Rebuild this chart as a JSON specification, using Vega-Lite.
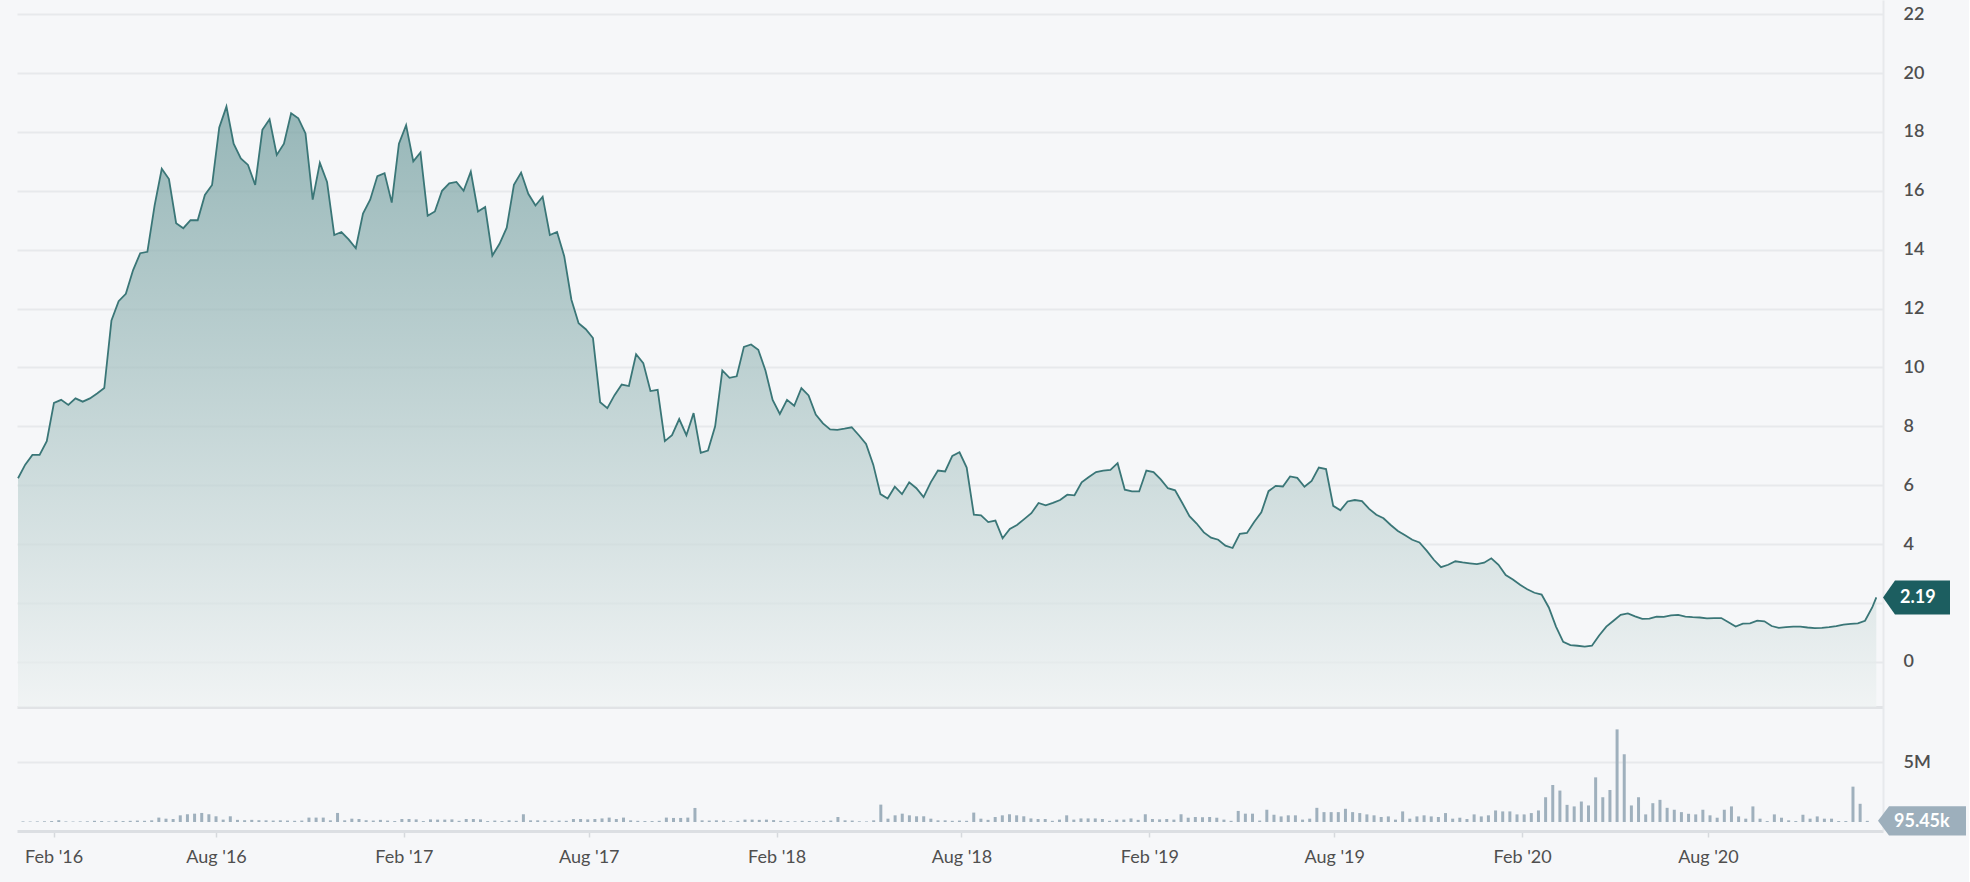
{
  "$schema": "https://vega.github.io/schema/vega-lite/v6.json",
  "background": "#f6f7f9",
  "padding": {"left": 14, "top": 0, "right": 2, "bottom": 18},
  "spacing": 0,
  "config": {
    "view": {"stroke": null},
    "axis": {"labelFont": "Lato", "labelFontSize": 18, "labelColor": "#4f4f4f", "title": null}
  },
  "datasets": {
    "weekly": [
      {"date": "2016-01-25", "price": 6.24, "volume": 50000},
      {"date": "2016-02-01", "price": 6.7, "volume": 40000},
      {"date": "2016-02-08", "price": 7.03, "volume": 50000},
      {"date": "2016-02-15", "price": 7.03, "volume": 60000},
      {"date": "2016-02-22", "price": 7.5, "volume": 80000},
      {"date": "2016-02-29", "price": 8.8, "volume": 150000},
      {"date": "2016-03-07", "price": 8.9, "volume": 50000},
      {"date": "2016-03-14", "price": 8.73, "volume": 40000},
      {"date": "2016-03-21", "price": 8.95, "volume": 50000},
      {"date": "2016-03-28", "price": 8.84, "volume": 60000},
      {"date": "2016-04-04", "price": 8.95, "volume": 100000},
      {"date": "2016-04-11", "price": 9.12, "volume": 80000},
      {"date": "2016-04-18", "price": 9.3, "volume": 50000},
      {"date": "2016-04-25", "price": 11.6, "volume": 100000},
      {"date": "2016-05-02", "price": 12.25, "volume": 80000},
      {"date": "2016-05-09", "price": 12.5, "volume": 100000},
      {"date": "2016-05-16", "price": 13.3, "volume": 120000},
      {"date": "2016-05-23", "price": 13.88, "volume": 100000},
      {"date": "2016-05-30", "price": 13.93, "volume": 140000},
      {"date": "2016-06-06", "price": 15.5, "volume": 370000},
      {"date": "2016-06-13", "price": 16.75, "volume": 280000},
      {"date": "2016-06-20", "price": 16.4, "volume": 250000},
      {"date": "2016-06-27", "price": 14.9, "volume": 560000},
      {"date": "2016-07-04", "price": 14.73, "volume": 650000},
      {"date": "2016-07-11", "price": 15.0, "volume": 700000},
      {"date": "2016-07-18", "price": 15.0, "volume": 760000},
      {"date": "2016-07-25", "price": 15.86, "volume": 650000},
      {"date": "2016-08-01", "price": 16.2, "volume": 480000},
      {"date": "2016-08-08", "price": 18.15, "volume": 200000},
      {"date": "2016-08-15", "price": 18.86, "volume": 480000},
      {"date": "2016-08-22", "price": 17.6, "volume": 180000},
      {"date": "2016-08-29", "price": 17.1, "volume": 150000},
      {"date": "2016-09-05", "price": 16.88, "volume": 180000},
      {"date": "2016-09-12", "price": 16.2, "volume": 150000},
      {"date": "2016-09-19", "price": 18.07, "volume": 140000},
      {"date": "2016-09-26", "price": 18.43, "volume": 120000},
      {"date": "2016-10-03", "price": 17.22, "volume": 140000},
      {"date": "2016-10-10", "price": 17.6, "volume": 120000},
      {"date": "2016-10-17", "price": 18.63, "volume": 100000},
      {"date": "2016-10-24", "price": 18.46, "volume": 120000},
      {"date": "2016-10-31", "price": 17.95, "volume": 370000},
      {"date": "2016-11-07", "price": 15.7, "volume": 370000},
      {"date": "2016-11-14", "price": 16.95, "volume": 370000},
      {"date": "2016-11-21", "price": 16.3, "volume": 140000},
      {"date": "2016-11-28", "price": 14.5, "volume": 760000},
      {"date": "2016-12-05", "price": 14.6, "volume": 140000},
      {"date": "2016-12-12", "price": 14.35, "volume": 280000},
      {"date": "2016-12-19", "price": 14.05, "volume": 250000},
      {"date": "2016-12-26", "price": 15.23, "volume": 150000},
      {"date": "2017-01-02", "price": 15.7, "volume": 120000},
      {"date": "2017-01-09", "price": 16.5, "volume": 180000},
      {"date": "2017-01-16", "price": 16.6, "volume": 120000},
      {"date": "2017-01-23", "price": 15.6, "volume": 80000},
      {"date": "2017-01-30", "price": 17.6, "volume": 250000},
      {"date": "2017-02-06", "price": 18.23, "volume": 250000},
      {"date": "2017-02-13", "price": 17.0, "volume": 220000},
      {"date": "2017-02-20", "price": 17.3, "volume": 80000},
      {"date": "2017-02-27", "price": 15.15, "volume": 220000},
      {"date": "2017-03-06", "price": 15.3, "volume": 200000},
      {"date": "2017-03-13", "price": 16.0, "volume": 200000},
      {"date": "2017-03-20", "price": 16.25, "volume": 220000},
      {"date": "2017-03-27", "price": 16.3, "volume": 100000},
      {"date": "2017-04-03", "price": 16.0, "volume": 250000},
      {"date": "2017-04-10", "price": 16.65, "volume": 250000},
      {"date": "2017-04-17", "price": 15.3, "volume": 220000},
      {"date": "2017-04-24", "price": 15.45, "volume": 80000},
      {"date": "2017-05-01", "price": 13.8, "volume": 120000},
      {"date": "2017-05-08", "price": 14.2, "volume": 80000},
      {"date": "2017-05-15", "price": 14.75, "volume": 140000},
      {"date": "2017-05-22", "price": 16.2, "volume": 100000},
      {"date": "2017-05-29", "price": 16.62, "volume": 650000},
      {"date": "2017-06-05", "price": 15.9, "volume": 140000},
      {"date": "2017-06-12", "price": 15.5, "volume": 140000},
      {"date": "2017-06-19", "price": 15.8, "volume": 120000},
      {"date": "2017-06-26", "price": 14.5, "volume": 100000},
      {"date": "2017-07-03", "price": 14.6, "volume": 120000},
      {"date": "2017-07-10", "price": 13.78, "volume": 100000},
      {"date": "2017-07-17", "price": 12.3, "volume": 250000},
      {"date": "2017-07-24", "price": 11.5, "volume": 250000},
      {"date": "2017-07-31", "price": 11.3, "volume": 220000},
      {"date": "2017-08-07", "price": 11.0, "volume": 250000},
      {"date": "2017-08-14", "price": 8.82, "volume": 300000},
      {"date": "2017-08-21", "price": 8.62, "volume": 370000},
      {"date": "2017-08-28", "price": 9.06, "volume": 250000},
      {"date": "2017-09-04", "price": 9.42, "volume": 370000},
      {"date": "2017-09-11", "price": 9.37, "volume": 140000},
      {"date": "2017-09-18", "price": 10.45, "volume": 100000},
      {"date": "2017-09-25", "price": 10.15, "volume": 80000},
      {"date": "2017-10-02", "price": 9.2, "volume": 80000},
      {"date": "2017-10-09", "price": 9.24, "volume": 100000},
      {"date": "2017-10-16", "price": 7.5, "volume": 370000},
      {"date": "2017-10-23", "price": 7.7, "volume": 340000},
      {"date": "2017-10-30", "price": 8.25, "volume": 340000},
      {"date": "2017-11-06", "price": 7.7, "volume": 370000},
      {"date": "2017-11-13", "price": 8.45, "volume": 1180000},
      {"date": "2017-11-20", "price": 7.1, "volume": 140000},
      {"date": "2017-11-27", "price": 7.18, "volume": 120000},
      {"date": "2017-12-04", "price": 8.0, "volume": 140000},
      {"date": "2017-12-11", "price": 9.9, "volume": 120000},
      {"date": "2017-12-18", "price": 9.65, "volume": 60000},
      {"date": "2017-12-25", "price": 9.7, "volume": 100000},
      {"date": "2018-01-01", "price": 10.7, "volume": 200000},
      {"date": "2018-01-08", "price": 10.78, "volume": 200000},
      {"date": "2018-01-15", "price": 10.6, "volume": 180000},
      {"date": "2018-01-22", "price": 9.9, "volume": 200000},
      {"date": "2018-01-29", "price": 8.9, "volume": 160000},
      {"date": "2018-02-05", "price": 8.42, "volume": 100000},
      {"date": "2018-02-12", "price": 8.9, "volume": 80000},
      {"date": "2018-02-19", "price": 8.7, "volume": 60000},
      {"date": "2018-02-26", "price": 9.3, "volume": 100000},
      {"date": "2018-03-05", "price": 9.05, "volume": 80000},
      {"date": "2018-03-12", "price": 8.4, "volume": 60000},
      {"date": "2018-03-19", "price": 8.1, "volume": 100000},
      {"date": "2018-03-26", "price": 7.9, "volume": 120000},
      {"date": "2018-04-02", "price": 7.88, "volume": 420000},
      {"date": "2018-04-09", "price": 7.92, "volume": 140000},
      {"date": "2018-04-16", "price": 7.97, "volume": 120000},
      {"date": "2018-04-23", "price": 7.7, "volume": 60000},
      {"date": "2018-04-30", "price": 7.4, "volume": 50000},
      {"date": "2018-05-07", "price": 6.7, "volume": 140000},
      {"date": "2018-05-14", "price": 5.7, "volume": 1460000},
      {"date": "2018-05-21", "price": 5.55, "volume": 280000},
      {"date": "2018-05-28", "price": 5.95, "volume": 560000},
      {"date": "2018-06-04", "price": 5.7, "volume": 700000},
      {"date": "2018-06-11", "price": 6.1, "volume": 560000},
      {"date": "2018-06-18", "price": 5.9, "volume": 480000},
      {"date": "2018-06-25", "price": 5.6, "volume": 480000},
      {"date": "2018-07-02", "price": 6.1, "volume": 280000},
      {"date": "2018-07-09", "price": 6.5, "volume": 140000},
      {"date": "2018-07-16", "price": 6.47, "volume": 140000},
      {"date": "2018-07-23", "price": 7.0, "volume": 100000},
      {"date": "2018-07-30", "price": 7.12, "volume": 120000},
      {"date": "2018-08-06", "price": 6.6, "volume": 100000},
      {"date": "2018-08-13", "price": 5.0, "volume": 790000},
      {"date": "2018-08-20", "price": 4.98, "volume": 280000},
      {"date": "2018-08-27", "price": 4.75, "volume": 180000},
      {"date": "2018-09-03", "price": 4.8, "volume": 420000},
      {"date": "2018-09-10", "price": 4.2, "volume": 560000},
      {"date": "2018-09-17", "price": 4.52, "volume": 650000},
      {"date": "2018-09-24", "price": 4.65, "volume": 560000},
      {"date": "2018-10-01", "price": 4.85, "volume": 480000},
      {"date": "2018-10-08", "price": 5.05, "volume": 300000},
      {"date": "2018-10-15", "price": 5.4, "volume": 250000},
      {"date": "2018-10-22", "price": 5.32, "volume": 250000},
      {"date": "2018-10-29", "price": 5.4, "volume": 100000},
      {"date": "2018-11-05", "price": 5.5, "volume": 200000},
      {"date": "2018-11-12", "price": 5.68, "volume": 560000},
      {"date": "2018-11-19", "price": 5.66, "volume": 200000},
      {"date": "2018-11-26", "price": 6.1, "volume": 300000},
      {"date": "2018-12-03", "price": 6.28, "volume": 300000},
      {"date": "2018-12-10", "price": 6.45, "volume": 300000},
      {"date": "2018-12-17", "price": 6.5, "volume": 250000},
      {"date": "2018-12-24", "price": 6.52, "volume": 100000},
      {"date": "2018-12-31", "price": 6.75, "volume": 200000},
      {"date": "2019-01-07", "price": 5.85, "volume": 200000},
      {"date": "2019-01-14", "price": 5.79, "volume": 300000},
      {"date": "2019-01-21", "price": 5.79, "volume": 180000},
      {"date": "2019-01-28", "price": 6.5, "volume": 650000},
      {"date": "2019-02-04", "price": 6.45, "volume": 250000},
      {"date": "2019-02-11", "price": 6.2, "volume": 220000},
      {"date": "2019-02-18", "price": 5.9, "volume": 250000},
      {"date": "2019-02-25", "price": 5.83, "volume": 200000},
      {"date": "2019-03-04", "price": 5.4, "volume": 650000},
      {"date": "2019-03-11", "price": 4.95, "volume": 360000},
      {"date": "2019-03-18", "price": 4.7, "volume": 420000},
      {"date": "2019-03-25", "price": 4.4, "volume": 400000},
      {"date": "2019-04-01", "price": 4.22, "volume": 420000},
      {"date": "2019-04-08", "price": 4.15, "volume": 360000},
      {"date": "2019-04-15", "price": 3.95, "volume": 200000},
      {"date": "2019-04-22", "price": 3.87, "volume": 100000},
      {"date": "2019-04-29", "price": 4.35, "volume": 930000},
      {"date": "2019-05-06", "price": 4.38, "volume": 700000},
      {"date": "2019-05-13", "price": 4.75, "volume": 700000},
      {"date": "2019-05-20", "price": 5.08, "volume": 120000},
      {"date": "2019-05-27", "price": 5.8, "volume": 1030000},
      {"date": "2019-06-03", "price": 5.98, "volume": 610000},
      {"date": "2019-06-10", "price": 5.96, "volume": 470000},
      {"date": "2019-06-17", "price": 6.3, "volume": 560000},
      {"date": "2019-06-24", "price": 6.25, "volume": 560000},
      {"date": "2019-07-01", "price": 5.95, "volume": 200000},
      {"date": "2019-07-08", "price": 6.15, "volume": 280000},
      {"date": "2019-07-15", "price": 6.6, "volume": 1190000},
      {"date": "2019-07-22", "price": 6.55, "volume": 830000},
      {"date": "2019-07-29", "price": 5.3, "volume": 830000},
      {"date": "2019-08-05", "price": 5.15, "volume": 830000},
      {"date": "2019-08-12", "price": 5.45, "volume": 1110000},
      {"date": "2019-08-19", "price": 5.5, "volume": 830000},
      {"date": "2019-08-26", "price": 5.46, "volume": 750000},
      {"date": "2019-09-02", "price": 5.2, "volume": 640000},
      {"date": "2019-09-09", "price": 5.0, "volume": 560000},
      {"date": "2019-09-16", "price": 4.88, "volume": 420000},
      {"date": "2019-09-23", "price": 4.65, "volume": 470000},
      {"date": "2019-09-30", "price": 4.45, "volume": 200000},
      {"date": "2019-10-07", "price": 4.3, "volume": 890000},
      {"date": "2019-10-14", "price": 4.15, "volume": 280000},
      {"date": "2019-10-21", "price": 4.06, "volume": 470000},
      {"date": "2019-10-28", "price": 3.78, "volume": 560000},
      {"date": "2019-11-04", "price": 3.47, "volume": 470000},
      {"date": "2019-11-11", "price": 3.22, "volume": 420000},
      {"date": "2019-11-18", "price": 3.3, "volume": 750000},
      {"date": "2019-11-25", "price": 3.42, "volume": 280000},
      {"date": "2019-12-02", "price": 3.38, "volume": 360000},
      {"date": "2019-12-09", "price": 3.35, "volume": 250000},
      {"date": "2019-12-16", "price": 3.32, "volume": 640000},
      {"date": "2019-12-23", "price": 3.37, "volume": 470000},
      {"date": "2019-12-30", "price": 3.52, "volume": 560000},
      {"date": "2020-01-06", "price": 3.3, "volume": 970000},
      {"date": "2020-01-13", "price": 2.95, "volume": 890000},
      {"date": "2020-01-20", "price": 2.8, "volume": 890000},
      {"date": "2020-01-27", "price": 2.62, "volume": 640000},
      {"date": "2020-02-03", "price": 2.47, "volume": 640000},
      {"date": "2020-02-10", "price": 2.35, "volume": 750000},
      {"date": "2020-02-17", "price": 2.29, "volume": 970000},
      {"date": "2020-02-24", "price": 1.85, "volume": 2080000},
      {"date": "2020-03-02", "price": 1.2, "volume": 3110000},
      {"date": "2020-03-09", "price": 0.68, "volume": 2640000},
      {"date": "2020-03-16", "price": 0.57, "volume": 1440000},
      {"date": "2020-03-23", "price": 0.55, "volume": 1310000},
      {"date": "2020-03-30", "price": 0.52, "volume": 1720000},
      {"date": "2020-04-06", "price": 0.55, "volume": 1390000},
      {"date": "2020-04-13", "price": 0.9, "volume": 3750000},
      {"date": "2020-04-20", "price": 1.2, "volume": 2080000},
      {"date": "2020-04-27", "price": 1.4, "volume": 2690000},
      {"date": "2020-05-04", "price": 1.6, "volume": 7780000},
      {"date": "2020-05-11", "price": 1.65, "volume": 5690000},
      {"date": "2020-05-18", "price": 1.55, "volume": 1390000},
      {"date": "2020-05-25", "price": 1.46, "volume": 2080000},
      {"date": "2020-06-01", "price": 1.47, "volume": 640000},
      {"date": "2020-06-08", "price": 1.54, "volume": 1580000},
      {"date": "2020-06-15", "price": 1.53, "volume": 1860000},
      {"date": "2020-06-22", "price": 1.58, "volume": 1190000},
      {"date": "2020-06-29", "price": 1.6, "volume": 1030000},
      {"date": "2020-07-06", "price": 1.54, "volume": 830000},
      {"date": "2020-07-13", "price": 1.52, "volume": 690000},
      {"date": "2020-07-20", "price": 1.51, "volume": 640000},
      {"date": "2020-07-27", "price": 1.48, "volume": 1030000},
      {"date": "2020-08-03", "price": 1.49, "volume": 560000},
      {"date": "2020-08-10", "price": 1.49, "volume": 360000},
      {"date": "2020-08-17", "price": 1.35, "volume": 1030000},
      {"date": "2020-08-24", "price": 1.2, "volume": 1310000},
      {"date": "2020-08-31", "price": 1.3, "volume": 470000},
      {"date": "2020-09-07", "price": 1.31, "volume": 280000},
      {"date": "2020-09-14", "price": 1.4, "volume": 1310000},
      {"date": "2020-09-21", "price": 1.38, "volume": 280000},
      {"date": "2020-09-28", "price": 1.22, "volume": 80000},
      {"date": "2020-10-05", "price": 1.16, "volume": 640000},
      {"date": "2020-10-12", "price": 1.18, "volume": 360000},
      {"date": "2020-10-19", "price": 1.2, "volume": 140000},
      {"date": "2020-10-26", "price": 1.2, "volume": 80000},
      {"date": "2020-11-02", "price": 1.17, "volume": 610000},
      {"date": "2020-11-09", "price": 1.15, "volume": 280000},
      {"date": "2020-11-16", "price": 1.16, "volume": 470000},
      {"date": "2020-11-23", "price": 1.18, "volume": 280000},
      {"date": "2020-11-30", "price": 1.22, "volume": 280000},
      {"date": "2020-12-07", "price": 1.27, "volume": 80000},
      {"date": "2020-12-14", "price": 1.29, "volume": 80000},
      {"date": "2020-12-21", "price": 1.31, "volume": 2970000},
      {"date": "2020-12-28", "price": 1.4, "volume": 1530000},
      {"date": "2021-01-04", "price": 1.85, "volume": 95450},
      {"date": "2021-01-08", "price": 2.19, "volume": null}
    ],
    "lastPrice": [{"price": 2.19, "label": "2.19"}],
    "lastVolume": [{"volume": 95450, "label": "95.45k"}]
  },
  "vconcat": [
    {
      "width": 1866,
      "height": 707,
      "layer": [
        {
          "data": {"name": "weekly"},
          "mark": {
            "type": "area",
            "color": {
              "gradient": "linear",
              "x1": 0, "y1": 0, "x2": 0, "y2": 1,
              "stops": [
                {"offset": 0, "color": "#6e9b9c"},
                {"offset": 0.5, "color": "#adc6c6"},
                {"offset": 1, "color": "#eef2f2"}
              ]
            },
            "line": {"color": "#3a7677", "strokeWidth": 1.8}
          },
          "encoding": {
            "x": {
              "field": "date", "type": "temporal",
              "scale": {"type": "utc", "domain": [
                {"year": 2016, "month": 1, "date": 24, "utc": true},
                {"year": 2021, "month": 1, "date": 14, "hours": 12, "utc": true}
              ]},
              "axis": {"labels": false, "ticks": false, "grid": false, "domain": true, "domainColor": "#e1e3e6", "domainWidth": 3, "title": null}
            },
            "y": {
              "field": "price", "type": "quantitative",
              "scale": {"domain": [-1.53, 22.48], "nice": false, "zero": false},
              "axis": {
                "orient": "right", "values": [0, 2, 4, 6, 8, 10, 12, 14, 16, 18, 20, 22],
                "labelExpr": "datum.value == 2 ? '' : datum.label",
                "grid": true, "gridColor": "#e7e9ec", "gridWidth": 2,
                "ticks": false, "domain": true, "domainColor": "#e7e9ec", "domainWidth": 2,
                "labelPadding": 20, "labelFontWeight": 600, "title": null
              }
            },
            "y2": {"datum": -1.53}
          }
        },
        {
          "data": {"name": "lastPrice"},
          "mark": {"type": "point", "shape": "M0,0L0.179,-0.254L1,-0.254L1,0.254L0.179,0.254Z", "size": 17956, "filled": true, "color": "#1c5e60", "opacity": 1, "strokeWidth": 0},
          "encoding": {
            "x": {"datum": {"year": 2021, "month": 1, "date": 14, "hours": 12, "utc": true}, "type": "temporal"},
            "y": {"field": "price", "type": "quantitative"}
          }
        },
        {
          "data": {"name": "lastPrice"},
          "mark": {"type": "text", "align": "left", "baseline": "middle", "dx": 17, "dy": 1, "color": "#ffffff", "font": "Lato", "fontSize": 18, "fontWeight": "bold"},
          "encoding": {
            "x": {"datum": {"year": 2021, "month": 1, "date": 14, "hours": 12, "utc": true}, "type": "temporal"},
            "y": {"field": "price", "type": "quantitative"},
            "text": {"field": "label"}
          }
        }
      ]
    },
    {
      "width": 1866,
      "height": 124,
      "layer": [
        {
          "data": {"name": "weekly"},
          "mark": {"type": "bar", "size": 3, "color": "#9fb0bd"},
          "encoding": {
            "x": {
              "field": "date", "type": "temporal",
              "scale": {"type": "utc", "domain": [
                {"year": 2016, "month": 1, "date": 24, "utc": true},
                {"year": 2021, "month": 1, "date": 14, "hours": 12, "utc": true}
              ]},
              "axis": {
                "values": [
                  {"year": 2016, "month": 2, "date": 24, "utc": true},
                  {"year": 2016, "month": 8, "date": 1, "utc": true},
                  {"year": 2017, "month": 2, "date": 1, "utc": true},
                  {"year": 2017, "month": 8, "date": 1, "utc": true},
                  {"year": 2018, "month": 2, "date": 1, "utc": true},
                  {"year": 2018, "month": 8, "date": 1, "utc": true},
                  {"year": 2019, "month": 2, "date": 1, "utc": true},
                  {"year": 2019, "month": 8, "date": 1, "utc": true},
                  {"year": 2020, "month": 2, "date": 1, "utc": true},
                  {"year": 2020, "month": 8, "date": 1, "utc": true}
                ],
                "format": "%b '%y", "labelFlush": false, "labelOverlap": false,
                "grid": false, "tickColor": "#d6d9dd", "tickSize": 6, "tickWidth": 1.5,
                "domainColor": "#dcdfe3", "domainWidth": 3, "labelPadding": 11, "title": null
              }
            },
            "y": {
              "field": "volume", "type": "quantitative",
              "scale": {"domain": [-756000, 9660000], "nice": false, "zero": false},
              "axis": {
                "orient": "right", "values": [5000000], "format": "~s",
                "grid": true, "gridColor": "#e7e9ec", "gridWidth": 2,
                "ticks": false, "domain": true, "domainColor": "#e7e9ec", "domainWidth": 2,
                "labelPadding": 20, "labelFontWeight": 600, "title": null
              }
            },
            "y2": {"datum": 0}
          }
        },
        {
          "data": {"name": "lastVolume"},
          "mark": {"type": "point", "shape": "M0,0L0.125,-0.165L1,-0.165L1,0.165L0.125,0.165Z", "size": 30976, "filled": true, "color": "#9dafbc", "opacity": 1, "strokeWidth": 0},
          "encoding": {
            "x": {"datum": {"year": 2021, "month": 1, "date": 14, "hours": 12, "utc": true}, "type": "temporal"},
            "y": {"field": "volume", "type": "quantitative"}
          }
        },
        {
          "data": {"name": "lastVolume"},
          "mark": {"type": "text", "align": "left", "baseline": "middle", "dx": 16, "dy": 1, "color": "#ffffff", "font": "Lato", "fontSize": 18, "fontWeight": "bold"},
          "encoding": {
            "x": {"datum": {"year": 2021, "month": 1, "date": 14, "hours": 12, "utc": true}, "type": "temporal"},
            "y": {"field": "volume", "type": "quantitative"},
            "text": {"field": "label"}
          }
        }
      ]
    }
  ]
}
